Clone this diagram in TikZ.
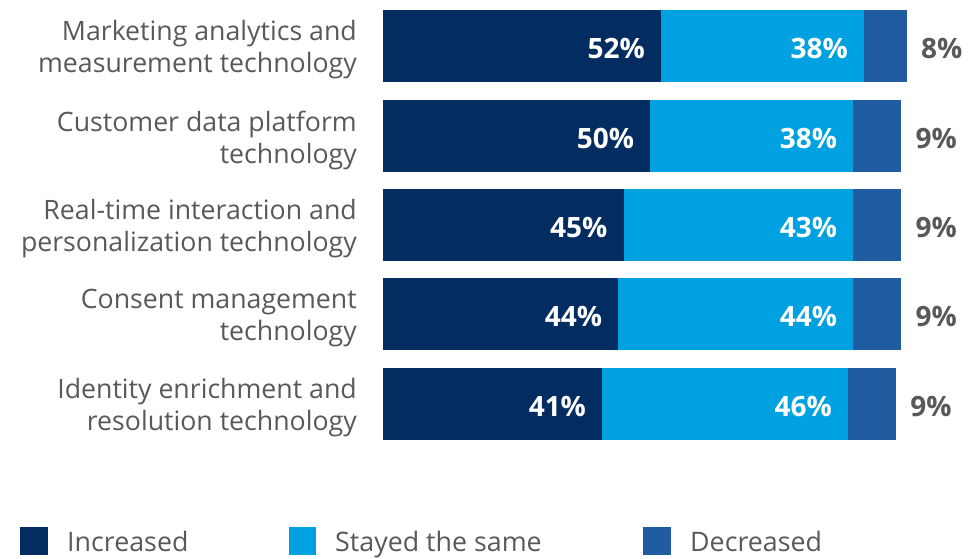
\documentclass[tikz,border=0pt]{standalone}
\usepackage{fontspec}
\setmainfont{Open Sans}
\definecolor{cnavy}{HTML}{032D60}
\definecolor{clight}{HTML}{00A1E0}
\definecolor{cmid}{HTML}{215CA0}
\definecolor{ctext}{HTML}{595959}
\begin{document}
\begin{tikzpicture}[x=1pt,y=-1pt,
  catlabel/.style={anchor=east,align=right,text=ctext,font=\fontsize{26.7}{32}\selectfont,inner sep=0pt},
  inlabel/.style={anchor=east,text=white,font=\fontsize{28}{30}\selectfont\bfseries,inner sep=0pt},
  outlabel/.style={anchor=west,text=ctext,font=\fontsize{28}{30}\selectfont\bfseries,inner sep=0pt},
  legtext/.style={anchor=base west,text=ctext,font=\fontsize{26.8}{30}\selectfont,inner sep=0pt}]
\useasboundingbox (0,0) rectangle (974,558);
\def\u{5.345}
\def\xo{383}
\foreach \n/\t/\a/\b/\c/\la/\lb in {
  1/10/52/38/8/{Marketing analytics and}/{measurement technology},
  2/100/50/38/9/{Customer data platform}/{technology},
  3/189/45/43/9/{Real-time interaction and}/{personalization technology},
  4/278/44/44/9/{Consent management}/{technology},
  5/368/41/46/9/{Identity enrichment and}/{resolution technology}}{
  \pgfmathsetmacro{\xa}{\xo+\a*\u}
  \pgfmathsetmacro{\xb}{\xa+\b*\u}
  \pgfmathsetmacro{\xc}{\xb+\c*\u}
  \pgfmathsetmacro{\ym}{\t+36}
  \fill[cnavy] (\xo,\t) rectangle (\xa,\t+72);
  \fill[clight] (\xa,\t) rectangle (\xb,\t+72);
  \fill[cmid] (\xb,\t) rectangle (\xc,\t+72);
  \node[inlabel] (ia\n) at (\xa-16,\ym+2) {\a\%};
  \node[inlabel] (ib\n) at (\xb-16,\ym+2) {\b\%};
  \node[outlabel] (oc\n) at (\xc+14,\ym+2) {\c\%};
  \node[catlabel] (cat\n) at (357,\ym+4) {\la\\\lb};
}
\fill[cnavy] (20,527) rectangle (48,555);
\fill[clight] (289,527) rectangle (316,555);
\fill[cmid] (643,527) rectangle (671,555);
\node[legtext] (l1) at (67,551) {Increased};
\node[legtext] (l2) at (335,551) {Stayed the same};
\node[legtext] (l3) at (690,551) {Decreased};
\end{tikzpicture}
\end{document}
